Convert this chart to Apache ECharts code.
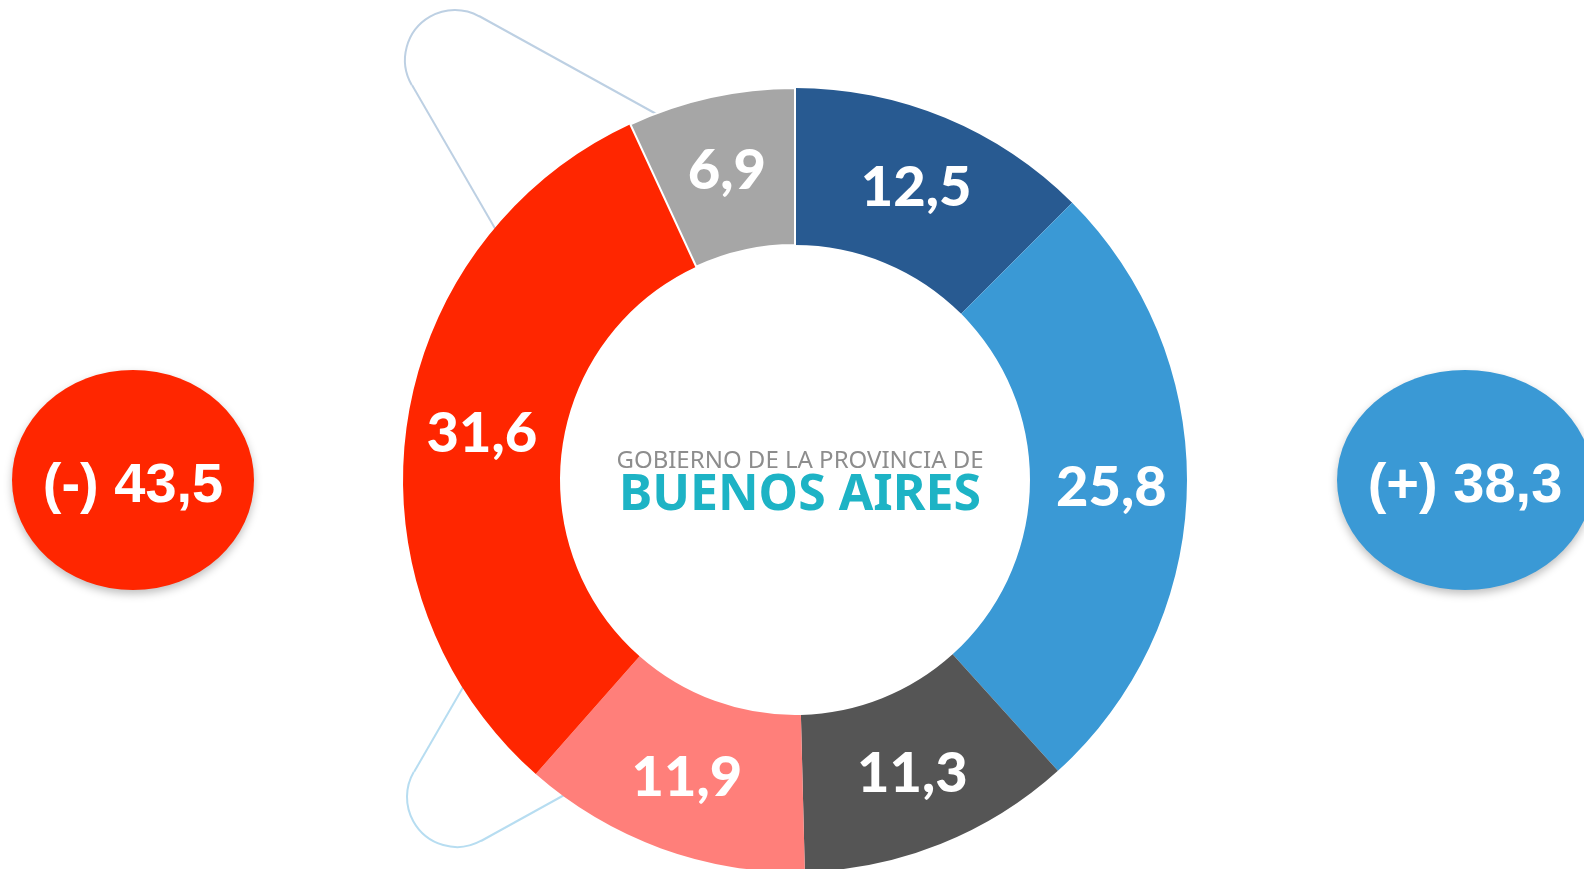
<!DOCTYPE html>
<html>
<head>
<meta charset="utf-8">
<script src="https://cdn.jsdelivr.net/npm/echarts@6/dist/echarts.min.js"></script>
<style>
  html, body { margin: 0; padding: 0; background: #fff; }
  #pie { width: 1584px; height: 869px; }
</style>
</head>
<body>
<div id="pie"></div>
<script>
// segment values, clockwise from 12 o'clock
var segNames = ['A', 'B', 'C', 'D', 'E', 'F'];
var segValues = [12.5, 25.8, 11.3, 11.9, 31.6, 6.9];
var segColors = ['#285A91', '#3A99D5', '#555555', '#FF7F7A', '#FF2600', '#A6A6A6'];

// the two bubbles on the sides
var blocLabels = ['(-)', '(+)'];
var blocValues = [43.5, 38.3];
var blocColors = ['#FF2600', '#3A99D5'];

var logoTop = 'GOBIERNO DE LA PROVINCIA DE';
var logoBottom = 'BUENOS AIRES';

function comma(v) {
    return v.toFixed(1).replace('.', ',');
}

function deg(d) { return d * Math.PI / 180; }

function pieMaker() {
    var myChart = echarts.init(document.getElementById('pie'));

    var pieData = [];
    for (var i = 0; i < segValues.length; i++) {
        var item = {
            name: segNames[i],
            value: segValues[i],
            itemStyle: { color: segColors[i] }
        };
        if (i == 5) {
            item.itemStyle.borderColor = '#fff';
            item.itemStyle.borderWidth = 2;
        }
        pieData.push(item);
    }

    var topLine = { stroke: '#BDD0E3', lineWidth: 2, fill: 'none' };
    var botLine = { stroke: '#B7DDF1', lineWidth: 2, fill: 'none' };

    var bubbleX = [133, 1465];
    var bubbleRx = [121, 128];
    var graphics = [
        // decorative cones behind the ring
        { type: 'line', z: 0, shape: { x1: 412, y1: 85, x2: 537, y2: 301 }, style: topLine },
        { type: 'line', z: 0, shape: { x1: 479, y1: 16, x2: 698, y2: 137 }, style: topLine },
        { type: 'arc', z: 0, shape: { cx: 455, cy: 60, r: 50, startAngle: deg(150), endAngle: deg(299), clockwise: true }, style: topLine },
        { type: 'line', z: 0, shape: { x1: 414, y1: 772, x2: 539, y2: 556 }, style: botLine },
        { type: 'line', z: 0, shape: { x1: 481, y1: 841, x2: 700, y2: 720 }, style: botLine },
        { type: 'arc', z: 0, shape: { cx: 457, cy: 797, r: 50, startAngle: deg(61), endAngle: deg(210), clockwise: true }, style: botLine },
        // logo in the hole
        {
            type: 'text', z: 10, x: 800, y: 461,
            style: {
                text: logoTop, fill: '#8d8d8d', fontSize: 24,
                fontFamily: 'Noto Sans', align: 'center', verticalAlign: 'middle'
            }
        },
        {
            type: 'text', z: 10, x: 800, y: 496,
            style: {
                text: logoBottom, fill: '#1DB3C5', fontSize: 50, fontWeight: 'bold',
                fontFamily: 'Noto Sans', align: 'center', verticalAlign: 'middle'
            }
        }
    ];
    for (var b = 0; b < blocValues.length; b++) {
        graphics.push({
            type: 'circle', z: 5,
            x: bubbleX[b], y: 480, scaleX: bubbleRx[b] / 110,
            shape: { cx: 0, cy: 0, r: 110 },
            style: {
                fill: blocColors[b],
                shadowBlur: 8, shadowOffsetY: 4, shadowColor: 'rgba(0,0,0,0.25)'
            }
        });
        graphics.push({
            type: 'text', z: 6, x: bubbleX[b], y: 487,
            style: {
                text: blocLabels[b] + ' ' + comma(blocValues[b]),
                fill: '#fff', fontSize: 56, fontWeight: 'bold',
                fontFamily: 'Liberation Sans', align: 'center', verticalAlign: 'middle'
            }
        });
    }

    myChart.setOption({
        animation: false,
        graphic: graphics,
        series: [{
            type: 'pie',
            center: [795, 480],
            radius: [235, 392],
            startAngle: 90,
            clockwise: true,
            silent: true,
            avoidLabelOverlap: false,
            z: 2,
            label: {
                show: true,
                position: 'inside',
                color: '#fff',
                fontSize: 56,
                fontWeight: 900,
                fontFamily: 'Lato, "DejaVu Sans Condensed", sans-serif',
                padding: [14, 0, 0, 0],
                formatter: function (p) { return comma(p.value); }
            },
            labelLine: { show: false },
            data: pieData
        }]
    });
}

pieMaker()
</script>
</body>
</html>
